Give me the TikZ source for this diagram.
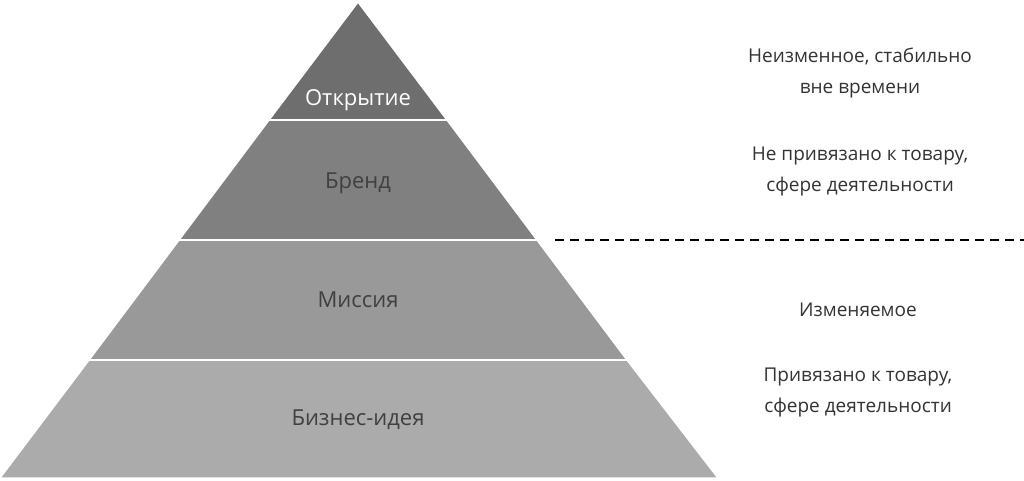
\documentclass[tikz,border=0pt]{standalone}
\usepackage{fontspec}
\setmainfont{Open Sans}
\begin{document}
\begin{tikzpicture}[x=1pt,y=-1pt,
    layer/.style={draw=white, line width=1.5pt},
    label/.style={font=\fontsize{22}{26}\selectfont, text=black!75},
    note/.style={font=\fontsize{19}{31}\selectfont, align=center, text=black!80}
  ]
  \useasboundingbox (0,0) rectangle (1024,480);
  % layers, top to bottom
  \fill[layer, fill=black!57] (358,2) -- (447,120) -- (269,120) -- cycle;
  \fill[layer, fill=black!50] (269,120) -- (447,120) -- (537,240) -- (179,240) -- cycle;
  \fill[layer, fill=black!40] (179,240) -- (537,240) -- (627,360) -- (89,360) -- cycle;
  \fill[layer, fill=black!33] (89,360) -- (627,360) -- (718,478) -- (0,478) -- cycle;
  \draw[white, line width=1.5pt] (269,120) -- (447,120) (179,240) -- (537,240) (89,360) -- (627,360);

  \node[label, text=white] (top) at (358,100) {Открытие};
  \node[label] (brand) at (358,183) {Бренд};
  \node[label] (mission) at (358,300) {Миссия};
  \node[label] (idea) at (358,420) {Бизнес-идея};

  \node[note] (n1) at (860,73) {Неизменное, стабильно\\вне времени};
  \node[note] (n2) at (860,171) {Не привязано к товару,\\сфере деятельности};
  \node[note] (n3) at (858,310) {Изменяемое};
  \node[note] (n4) at (858,392) {Привязано к товару,\\сфере деятельности};

  \draw[dashed, line width=2.5pt, dash pattern=on 9pt off 6pt] (555,240) -- (1024,240);
\end{tikzpicture}
\end{document}
